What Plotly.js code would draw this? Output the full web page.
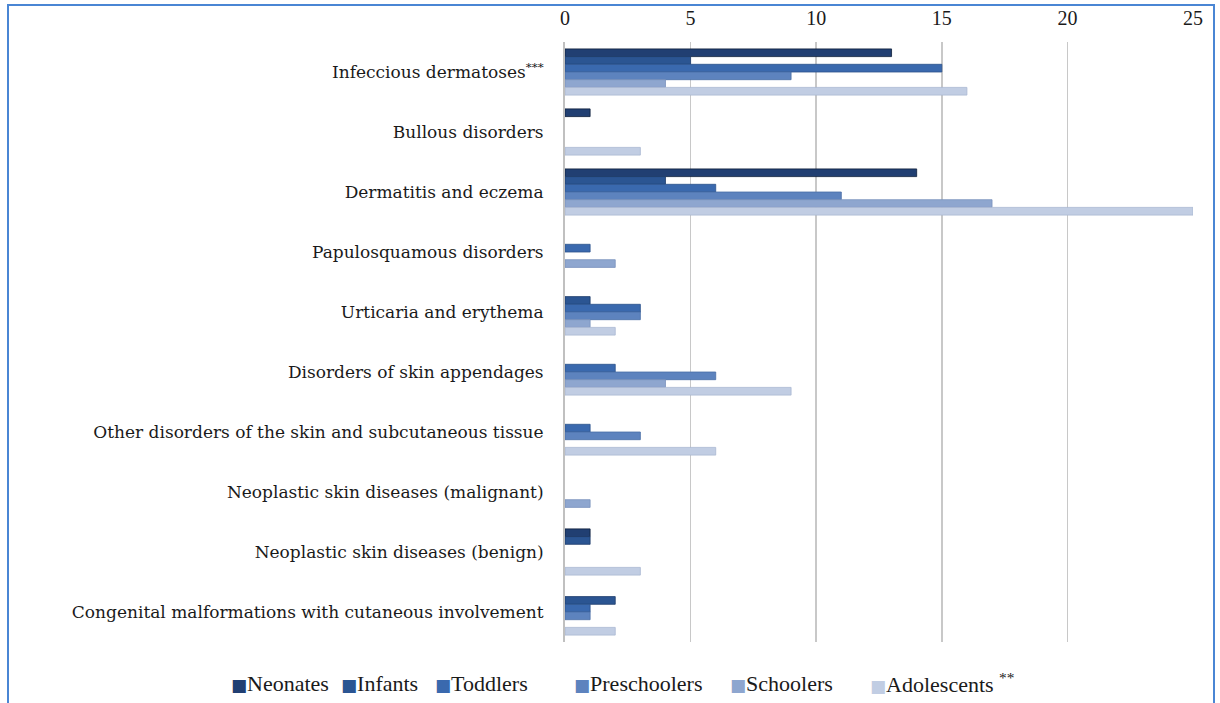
<!DOCTYPE html>
<html>
<head>
<meta charset="utf-8">
<script src="https://cdn.plot.ly/plotly-3.0.1.min.js"></script>
<style>
  html, body { margin: 0; padding: 0; background: #fff; }
  #frame { position: absolute; left: 7px; top: 4px; width: 1204px; height: 710px;
           border-left: 2px solid #4a86d4; border-top: 2px solid #4a86d4; border-right: 2px solid #4a86d4; pointer-events: none; }
  #chart { position: absolute; left: 0; top: 0; width: 1220px; height: 703px; }
</style>
</head>
<body>
<div id="chart"></div>
<div id="frame"></div>
<script>
const categories = [
  "Infeccious dermatoses<sup>***</sup>",
  "Bullous disorders",
  "Dermatitis and eczema",
  "Papulosquamous disorders",
  "Urticaria and erythema",
  "Disorders of skin appendages",
  "Other disorders of the skin and subcutaneous tissue",
  "Neoplastic skin diseases (malignant)",
  "Neoplastic skin diseases (benign)",
  "Congenital malformations with cutaneous involvement"
];
const seriesNames = ["Neonates", "Infants", "Toddlers", "Preschoolers", "Schoolers", "Adolescents <sup>**</sup>"];
const neonates     = [13, 1, 14, 0, 0, 0, 0, 0, 1, 0];
const infants      = [5, 0, 4, 0, 1, 0, 0, 0, 1, 2];
const toddlers     = [15, 0, 6, 1, 3, 2, 1, 0, 0, 1];
const preschoolers = [9, 0, 11, 0, 3, 6, 3, 0, 0, 1];
const schoolers    = [4, 0, 17, 2, 1, 4, 0, 1, 0, 0];
const adolescents  = [16, 3, 25, 0, 2, 9, 6, 0, 3, 2];
const colors = ["#213f72", "#2b5592", "#3a69ae", "#5d83be", "#8ea6cf", "#c1cde3"];
const lineColors = ["#0d1e3a", "#1d3b6a", "#2b528c", "#4a6ea6", "#7a92bc", "#a9b7d2"];

const values = [neonates, infants, toddlers, preschoolers, schoolers, adolescents];
const traces = values.map((v, i) => ({
  type: "bar",
  orientation: "h",
  name: seriesNames[i],
  x: v,
  y: categories,
  marker: { color: colors[i], line: { color: lineColors[i], width: v.map(d => d > 0 ? 0.8 : 0) } },
  showlegend: false,
  hoverinfo: "x+name"
}));

// legend drawn as annotations (symbol + label), positioned in pixels
const plotL = 565, plotW = 628, plotT = 42, plotH = 600;
const legendX = [229, 339, 433, 572, 728, 868];
const legendY = 683;
const annotations = seriesNames.map((n, i) => ({
  xref: "paper", yref: "paper",
  x: (legendX[i] - plotL) / plotW,
  y: (plotT + plotH - legendY) / plotH,
  xanchor: "left", yanchor: "middle",
  showarrow: false,
  text: '<span style="color:' + colors[i] + ';font-family:DejaVu Sans;font-size:17px">&#9632;</span>' + n,
  font: { family: "Liberation Serif", size: 22, color: "#1a1a1a" }
}));

const layout = {
  width: 1220, height: 703,
  margin: { l: 565, r: 27, t: 42, b: 61 },
  paper_bgcolor: "#ffffff",
  plot_bgcolor: "#ffffff",
  barmode: "group",
  bargap: 0.23,
  bargroupgap: 0,
  font: { family: "DejaVu Serif", color: "#1a1a1a", size: 17 },
  xaxis: {
    side: "top",
    range: [0, 25],
    dtick: 5,
    showgrid: true,
    gridcolor: "#c8c8c8",
    gridwidth: 1.5,
    zeroline: false,
    showline: false,
    ticks: "",
    ticklabelstandoff: 12,
    tickfont: { family: "Liberation Serif", size: 20 },
    fixedrange: true
  },
  yaxis: {
    autorange: "reversed",
    showline: true,
    linecolor: "#c0c0c0",
    linewidth: 2,
    ticks: "",
    ticklabelstandoff: 16,
    tickfont: { family: "DejaVu Serif", size: 17 },
    fixedrange: true
  },
  annotations: annotations,
  showlegend: false
};

Plotly.newPlot("chart", traces, layout, { displayModeBar: false, staticPlot: true });
</script>
</body>
</html>
